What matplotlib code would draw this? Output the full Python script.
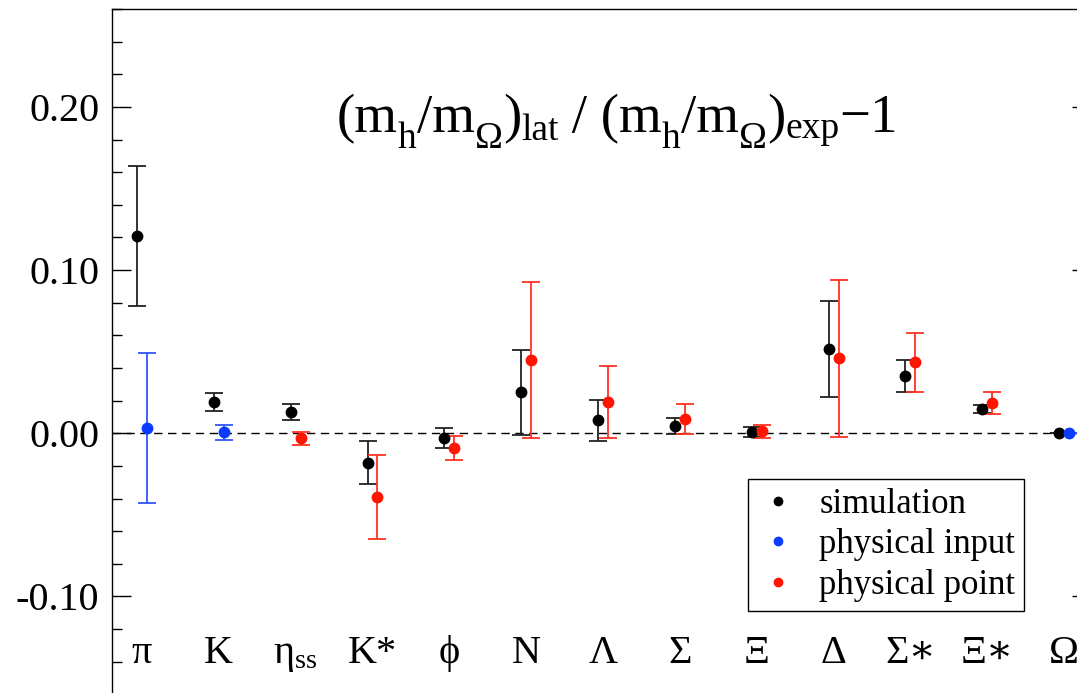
import numpy as np
import matplotlib
matplotlib.use('Agg')
import matplotlib.pyplot as plt
from matplotlib.lines import Line2D
from matplotlib.ticker import MultipleLocator, FuncFormatter

plt.rcParams['font.family'] = ['Liberation Serif', 'DejaVu Serif']
plt.rcParams['mathtext.fontset'] = 'custom'
plt.rcParams['mathtext.rm'] = 'Liberation Serif'
plt.rcParams['mathtext.it'] = 'Liberation Serif:italic'
plt.rcParams['axes.unicode_minus'] = False

# hadron labels
labels = [r'$\mathrm{\pi}$', 'K', r'$\mathrm{\eta_{ss}}$', 'K*', '\u03d5', 'N',
          '\u039b', '\u03a3', '\u039e', '\u0394', '\u03a3\u2217', '\u039e\u2217',
          '\u03a9']

# simulation (black)
sim_val = [0.121, 0.019, 0.013, -0.018, -0.003, 0.025, 0.008, 0.0045, 0.0008,
           0.0515, 0.035, 0.0147, 0.0]
sim_err = [0.043, 0.0055, 0.005, 0.013, 0.006, 0.026, 0.0125, 0.0048, 0.003,
           0.0295, 0.0098, 0.0025, 0.0]

# physical input (blue): pi, K, Omega
inp_idx = [0, 1, 12]
inp_val = [0.003, 0.0005, 0.0]
inp_err = [0.046, 0.0045, 0.0]

# physical point (red)
pt_idx = [2, 3, 4, 5, 6, 7, 8, 9, 10, 11]
pt_val = [-0.003, -0.039, -0.009, 0.045, 0.019, 0.0087, 0.0012, 0.046, 0.0436, 0.0184]
pt_err = [0.004, 0.026, 0.0075, 0.048, 0.022, 0.009, 0.004, 0.048, 0.018, 0.0067]

# title pieces: (text, is_subscript, drop in px)
title_parts = [('(m', False, 0), ('h', True, 16), ('/m', False, 0), ('\u03a9', True, 16),
               (')', False, 0), ('lat', True, 8), (' / (m', False, 0), ('h', True, 16),
               ('/m', False, 0), ('\u03a9', True, 16), (')', False, 0), ('exp', True, 6),
               ('\u22121', False, 0)]

BLUE = '#0a3cff'
RED = '#ff1500'
off = 0.065

fig = plt.figure(figsize=(10.77, 6.93), dpi=100)
ax = fig.add_axes([112/1077, -0.002, (1091-112)/1077, 1 - 9/693 + 0.002])

xs = np.arange(1, len(labels) + 1)

ax.axhline(0, color='black', lw=1.0, ls=(0, (6, 4)), zorder=1)

eb = dict(fmt='o', ms=7.5, capsize=6.5, elinewidth=1.3, capthick=1.3, zorder=3)
ax.errorbar(xs - off, sim_val, yerr=sim_err, color='black', ecolor='#222222', **eb)
ax.errorbar(xs[inp_idx] + off, inp_val, yerr=inp_err, color=BLUE, ecolor='#3355ff', **eb)
ax.errorbar(xs[pt_idx] + off, pt_val, yerr=pt_err, color=RED, ecolor='#ff3322', **eb)

for x, lab in zip(xs, labels):
    ax.text(x, -0.1405, lab, ha='center', va='baseline', fontsize=29)

ax.set_xlim(0.61, 13.35)
ax.set_ylim(-0.16, 0.26)
ax.set_xticks([])
ax.yaxis.set_major_locator(MultipleLocator(0.1))
ax.yaxis.set_minor_locator(MultipleLocator(0.02))
ax.yaxis.set_major_formatter(FuncFormatter(lambda v, p: '%.2f' % v))
ax.tick_params(axis='y', which='both', direction='in', left=True, right=True,
               width=1.0, labelsize=29, pad=9)
ax.tick_params(axis='y', which='major', length=14)
ax.tick_params(axis='y', which='minor', length=7)
for s in ax.spines.values():
    s.set_linewidth(1.0)

# title built piece by piece so the subscripts sit low like the original
renderer = fig.canvas.get_renderer()
px = 337.0
base = 132.0
for txt, sub, drop in title_parts:
    t = fig.text(px / 100, (693 - base - drop) / 100, txt,
                 fontsize=27 if sub else 39.5, ha='left', va='baseline',
                 transform=fig.dpi_scale_trans)
    px += t.get_window_extent(renderer).width

handles = [Line2D([], [], ls='none', marker='o', ms=6, color=c)
           for c in ['black', BLUE, RED]]
leg = ax.legend(handles, ['simulation', 'physical input', 'physical point'],
                loc='upper left', bbox_to_anchor=(748/1077, 1 - 479/693),
                bbox_transform=fig.transFigure, fontsize=25, frameon=True,
                fancybox=False, edgecolor='black', framealpha=1,
                handlelength=1.2, handletextpad=0.6, borderpad=0.25,
                labelspacing=0.22, borderaxespad=0)
leg.get_frame().set_linewidth(1.0)

fig.savefig('out.png', dpi=100)
